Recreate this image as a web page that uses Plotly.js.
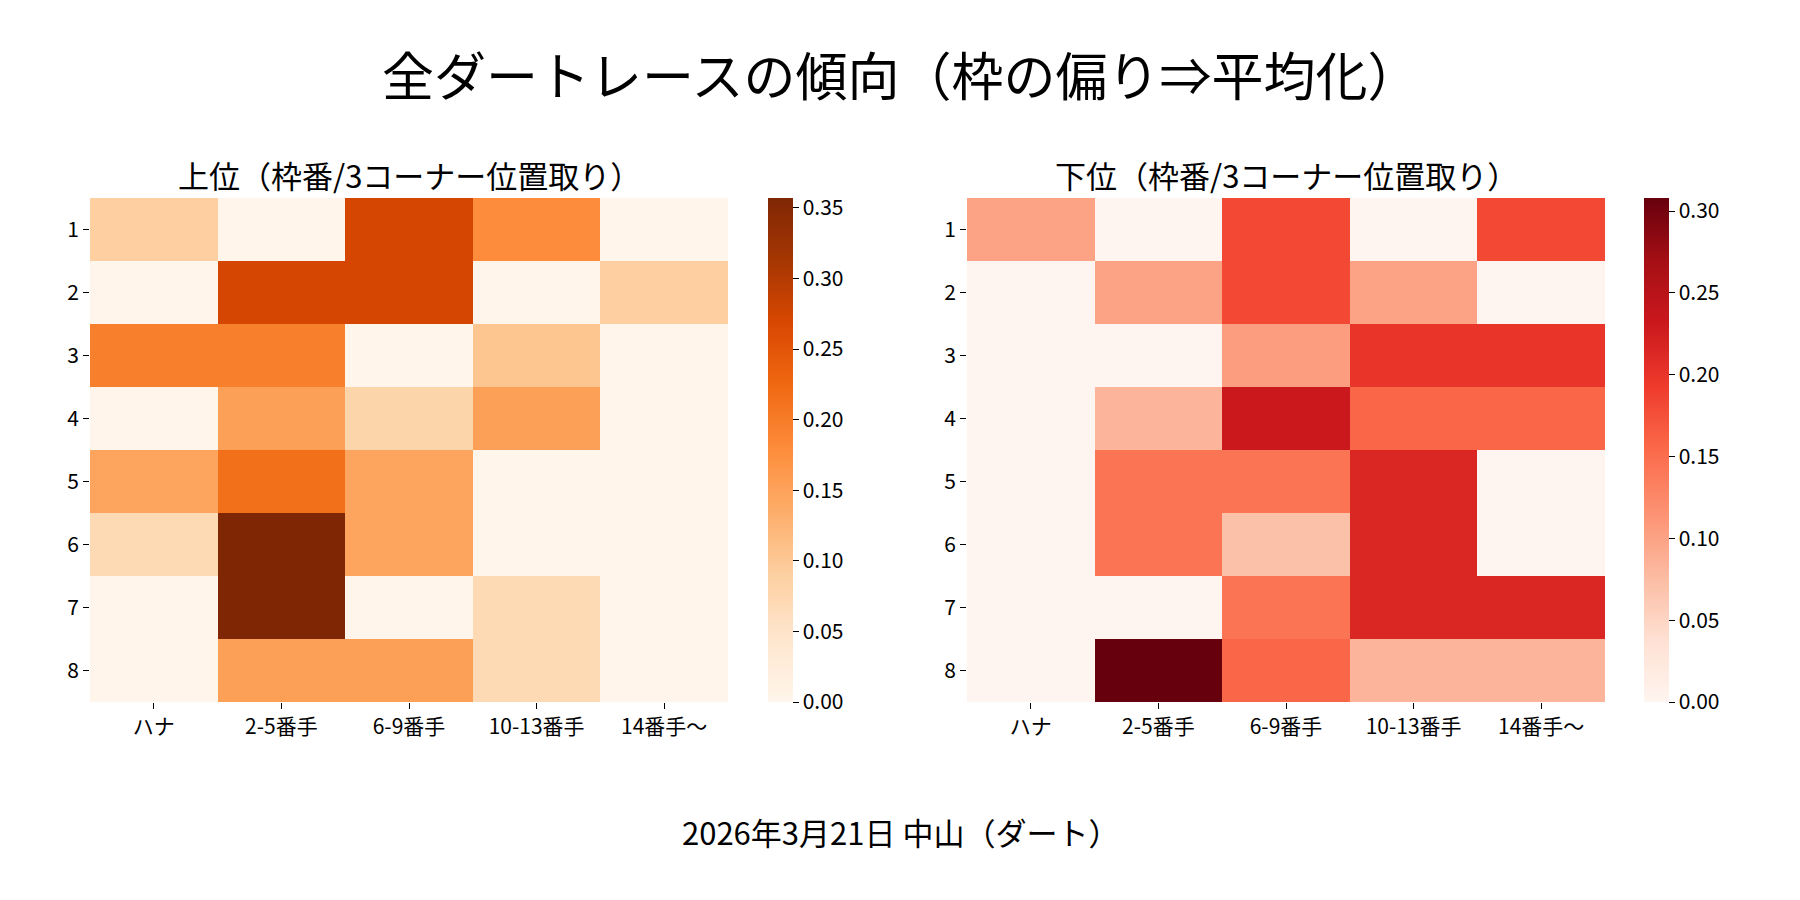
<!DOCTYPE html>
<html>
<head>
<meta charset="utf-8">
<script src="https://cdn.plot.ly/plotly-3.0.1.min.js"></script>
<style>
  html, body { margin: 0; padding: 0; background: #fff; }
  #chart { width: 1800px; height: 900px; }
</style>
</head>
<body>
<div id="chart"></div>
<script>
// 3コーナー位置取り (columns) and 枠番 (rows)
const positions = ["ハナ", "2-5番手", "6-9番手", "10-13番手", "14番手〜"];
const gates = ["1", "2", "3", "4", "5", "6", "7", "8"];

// 上位 (top finishers) share per cell
const topValues = [
  [0.090, 0.000, 0.272, 0.179, 0.000],
  [0.000, 0.272, 0.272, 0.000, 0.090],
  [0.196, 0.196, 0.000, 0.104, 0.000],
  [0.000, 0.153, 0.080, 0.153, 0.000],
  [0.146, 0.214, 0.146, 0.000, 0.000],
  [0.071, 0.357, 0.146, 0.000, 0.000],
  [0.000, 0.357, 0.000, 0.071, 0.000],
  [0.000, 0.153, 0.153, 0.071, 0.000]
];

// 下位 (bottom finishers) share per cell
const bottomValues = [
  [0.100, 0.000, 0.182, 0.000, 0.182],
  [0.000, 0.100, 0.182, 0.100, 0.000],
  [0.000, 0.000, 0.105, 0.200, 0.200],
  [0.000, 0.083, 0.231, 0.157, 0.157],
  [0.000, 0.143, 0.143, 0.214, 0.000],
  [0.000, 0.143, 0.071, 0.214, 0.000],
  [0.000, 0.000, 0.143, 0.214, 0.214],
  [0.000, 0.308, 0.157, 0.083, 0.083]
];

const topMax = 0.357;
const bottomMax = 0.308;
const topTicks = [0, 0.05, 0.10, 0.15, 0.20, 0.25, 0.30, 0.35];
const bottomTicks = [0, 0.05, 0.10, 0.15, 0.20, 0.25, 0.30];

const ORANGES = ["#fff5eb", "#fee6ce", "#fdd0a2", "#fdae6b", "#fd8d3c",
                 "#f16913", "#d94801", "#a63603", "#7f2704"];
const REDS = ["#fff5f0", "#fee0d2", "#fcbba1", "#fc9272", "#fb6a4a",
              "#ef3b2c", "#cb181d", "#a50f15", "#67000d"];

function toScale(cols) {
  return cols.map((c, i) => [i / (cols.length - 1), c]);
}

const FONT = "Noto Sans CJK JP, Noto Sans, DejaVu Sans, sans-serif";

function colorbar(x, ticks) {
  return {
    x: x, xanchor: "left", xpad: 0,
    y: 0.5, yanchor: "middle", ypad: 0,
    len: 0.56, lenmode: "fraction",
    thickness: 25, outlinewidth: 0,
    tickmode: "array", tickvals: ticks,
    ticktext: ticks.map(t => t.toFixed(2)),
    ticks: "outside", ticklen: 6, tickwidth: 1.2, tickcolor: "#000",
    tickfont: { family: FONT, size: 21, color: "#000" }
  };
}

const traces = [
  {
    type: "heatmap",
    x: positions, y: gates, z: topValues,
    zmin: 0, zmax: topMax,
    colorscale: toScale(ORANGES),
    colorbar: colorbar(768 / 1800, topTicks),
    hovertemplate: "%{y} / %{x}: %{z:.3f}<extra></extra>",
    xaxis: "x", yaxis: "y"
  },
  {
    type: "heatmap",
    x: positions, y: gates, z: bottomValues,
    zmin: 0, zmax: bottomMax,
    colorscale: toScale(REDS),
    colorbar: colorbar(1644 / 1800, bottomTicks),
    hovertemplate: "%{y} / %{x}: %{z:.3f}<extra></extra>",
    xaxis: "x2", yaxis: "y2"
  }
];

function xAxis(domain, anchor) {
  return {
    domain: domain, anchor: anchor,
    showgrid: false, zeroline: false, showline: false,
    ticks: "outside", ticklen: 6, tickwidth: 1.2, tickcolor: "#000",
    tickfont: { family: FONT, size: 21, color: "#000" },
    fixedrange: true
  };
}

function yAxis(anchor) {
  return {
    domain: [0.22, 0.78], anchor: anchor,
    autorange: "reversed",
    showgrid: false, zeroline: false, showline: false,
    ticks: "outside", ticklen: 6, tickwidth: 1.2, tickcolor: "#000",
    tickfont: { family: FONT, size: 21, color: "#000" },
    fixedrange: true
  };
}

const leftDom = [90 / 1800, 728 / 1800];
const rightDom = [967 / 1800, 1605 / 1800];

const layout = {
  width: 1800, height: 900,
  margin: { l: 0, r: 0, t: 0, b: 0 },
  paper_bgcolor: "#fff", plot_bgcolor: "#fff",
  font: { family: FONT, color: "#000" },
  xaxis: xAxis(leftDom, "y"),
  yaxis: yAxis("x"),
  xaxis2: xAxis(rightDom, "y2"),
  yaxis2: yAxis("x2"),
  annotations: [
    {
      text: "全ダートレースの傾向（枠の偏り⇒平均化）",
      x: 0.5, y: 1 - 74 / 900, xref: "paper", yref: "paper",
      xanchor: "center", yanchor: "middle", showarrow: false,
      font: { family: FONT, size: 52, color: "#000" }
    },
    {
      text: "上位（枠番/3コーナー位置取り）",
      x: (leftDom[0] + leftDom[1]) / 2, y: 1 - 174 / 900,
      xref: "paper", yref: "paper",
      xanchor: "center", yanchor: "middle", showarrow: false,
      font: { family: FONT, size: 31, color: "#000" }
    },
    {
      text: "下位（枠番/3コーナー位置取り）",
      x: (rightDom[0] + rightDom[1]) / 2, y: 1 - 174 / 900,
      xref: "paper", yref: "paper",
      xanchor: "center", yanchor: "middle", showarrow: false,
      font: { family: FONT, size: 31, color: "#000" }
    },
    {
      text: "2026年3月21日 中山（ダート）",
      x: 0.5, y: 1 - 831 / 900, xref: "paper", yref: "paper",
      xanchor: "center", yanchor: "middle", showarrow: false,
      font: { family: FONT, size: 31, color: "#000" }
    }
  ]
};

Plotly.newPlot("chart", traces, layout, { displayModeBar: false });
</script>
</body>
</html>
